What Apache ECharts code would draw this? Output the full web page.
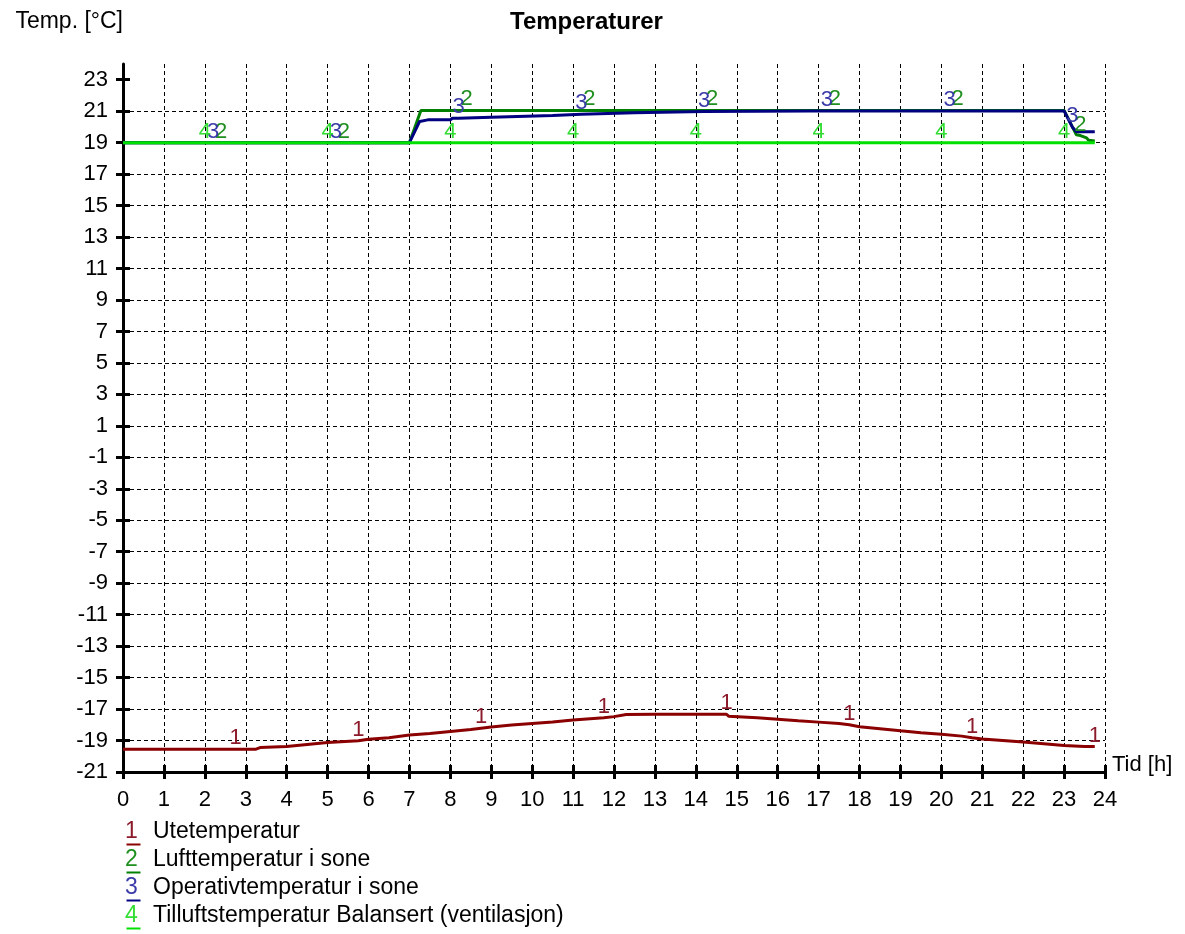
<!DOCTYPE html>
<html>
<head>
<meta charset="utf-8">
<title>Temperaturer</title>
<script src="https://cdn.jsdelivr.net/npm/echarts@6/dist/echarts.min.js"></script>
<style>
  html, body { margin: 0; padding: 0; background: #fff; }
  #chart { width: 1185px; height: 934px; }
</style>
</head>
<body>
<div id="chart"></div>
<script>
// tick labels
const xTicks = [0, 1, 2, 3, 4, 5, 6, 7, 8, 9, 10, 11, 12, 13, 14, 15, 16, 17, 18, 19, 20, 21, 22, 23, 24];
const yTicks = [-21, -19, -17, -15, -13, -11, -9, -7, -5, -3, -1, 1, 3, 5, 7, 9, 11, 13, 15, 17, 19, 21, 23];

const names = [
  'Utetemperatur',
  'Lufttemperatur i sone',
  'Operativtemperatur i sone',
  'Tilluftstemperatur Balansert (ventilasjon)'
];

// 1 Utetemperatur
const hours1 = [0, 2.75, 3.25, 3.35, 4, 4.5, 5, 5.75, 6, 6.5, 7, 7.5, 8, 8.5, 8.75, 9, 9.5, 10, 10.5, 11, 11.5, 11.75,
  12, 12.3, 13, 14, 14.75, 14.8, 15.5, 16, 16.5, 17, 17.5, 17.75, 18, 18.5, 19, 19.5, 20, 20.5, 20.75, 21, 21.5, 22,
  22.5, 23, 23.5, 23.75];
const temp1 = [-19.55, -19.55, -19.55, -19.45, -19.38, -19.25, -19.12, -19.02, -18.92, -18.82, -18.65, -18.55, -18.42,
  -18.3, -18.22, -18.14, -18.02, -17.92, -17.82, -17.7, -17.6, -17.55, -17.48, -17.35, -17.33, -17.33, -17.33, -17.45,
  -17.55, -17.65, -17.75, -17.83, -17.92, -18.0, -18.12, -18.25, -18.38, -18.5, -18.6, -18.72, -18.82, -18.9, -19.0,
  -19.1, -19.2, -19.32, -19.38, -19.38];
const marks1 = [2.75, 5.75, 8.75, 11.75, 14.75, 17.75, 20.75, 23.75];

// 2 Lufttemperatur i sone
const hours2 = [0, 2.4, 5.4, 7, 7.28, 8.4, 11.4, 14.4, 17.4, 20.4, 23, 23.3, 23.4, 23.55, 23.6, 23.75];
const temp2 = [19, 19, 19, 19, 21.05, 21.05, 21.05, 21.05, 21.05, 21.05, 21.05, 19.5, 19.45, 19.3, 19.15, 19.1];
const marks2 = [2.4, 5.4, 8.4, 11.4, 14.4, 17.4, 20.4, 23.4];

// 3 Operativtemperatur i sone
const hours3 = [0, 2.2, 5.2, 7, 7.25, 7.45, 8.0, 8.05, 8.2, 9, 10.5, 11.2, 12.5, 14.2, 16.8, 17.2, 20.2, 23, 23.2,
  23.3, 23.75];
const temp3 = [19, 19, 19, 19, 20.35, 20.45, 20.45, 20.55, 20.55, 20.62, 20.72, 20.8, 20.9, 20.98, 21.02, 21.02,
  21.02, 21.02, 20.0, 19.7, 19.7];
const marks3 = [2.2, 5.2, 8.2, 11.2, 14.2, 17.2, 20.2, 23.2];

// 4 Tilluftstemperatur Balansert (ventilasjon)
const hours4 = [0, 2, 5, 8, 11, 14, 17, 20, 23, 23.75];
const temp4 = [19, 19, 19, 19, 19, 19, 19, 19, 19, 19];
const marks4 = [2, 5, 8, 11, 14, 17, 20, 23];

const lineColors = ['#8b0000', '#008000', '#000080', '#00e000'];
const markColors = ['#8b1a2a', '#1f8f1f', '#3a3aa8', '#33dd33'];

const chart = echarts.init(document.getElementById('chart'));

function makeSeries(i, hours, temps, marks) {
  return {
    name: names[i],
    type: 'line',
    data: hours.map((h, k) => [h, temps[k]]),
    symbol: 'circle',
    symbolSize: 0,
    lineStyle: { color: lineColors[i], width: 3 },
    itemStyle: { color: lineColors[i] },
    label: {
      show: true,
      position: 'top',
      distance: 0,
      color: markColors[i],
      fontSize: 22,
      fontFamily: 'Liberation Sans, Arial, sans-serif',
      formatter: (p) => (marks.includes(p.value[0]) ? String(i + 1) : '')
    },
    emphasis: { disabled: true },
    silent: true
  };
}

const dashed = { color: '#000', width: 1, type: [4, 3] };
const tickStyle = { color: '#000', width: 3 };
const font = 'Liberation Sans, Arial, sans-serif';

const rich = { t: { color: '#000', fontSize: 23, fontFamily: font } };
markColors.forEach((c, i) => {
  rich['n' + (i + 1)] = { color: c, fontSize: 23, fontFamily: font, width: 28 };
});

// underlines under the legend numbers
const legendTop = 818;
const underlines = lineColors.map((c, i) => ({
  type: 'line',
  left: 124,
  top: legendTop + 24 + i * 28,
  shape: { x1: 0, y1: 0, x2: 14, y2: 0 },
  style: { stroke: c, lineWidth: 2 },
  silent: true
}));

const option = {
  animation: false,
  backgroundColor: '#fff',
  title: {
    text: 'Temperaturer',
    left: 505,
    top: 5,
    textStyle: { color: '#000', fontSize: 24, fontWeight: 'bold', fontFamily: font }
  },
  legend: {
    orient: 'vertical',
    left: 120,
    top: legendTop,
    padding: 0,
    icon: 'none',
    itemWidth: 0,
    itemHeight: 28,
    itemGap: 0,
    selectedMode: false,
    data: names,
    formatter: (name) => {
      const i = names.indexOf(name) + 1;
      return '{n' + i + '|' + i + '}{t|' + name + '}';
    },
    textStyle: { rich: rich, lineHeight: 28 }
  },
  graphic: underlines,
  grid: [
    { left: 123, right: 80, top: 64, bottom: 162 },
    { left: 123, right: 80, top: 64, bottom: 162 }
  ],
  xAxis: [
    {
      type: 'value',
      min: 0,
      max: 24,
      interval: 1,
      name: 'Tid [h]',
      nameLocation: 'end',
      nameGap: 7,
      nameTextStyle: { color: '#000', fontSize: 22, fontFamily: font, verticalAlign: 'bottom', lineHeight: 14 },
      axisLine: { onZero: false, lineStyle: { color: '#000', width: 3 } },
      axisTick: { length: 7, lineStyle: tickStyle },
      axisLabel: { color: '#000', fontSize: 22, fontFamily: font, margin: 17 },
      splitLine: { show: true, lineStyle: dashed }
    },
    {
      type: 'value',
      gridIndex: 1,
      min: 0,
      max: 24,
      interval: 1,
      axisLine: { show: false, onZero: false },
      axisTick: { inside: true, length: 7, lineStyle: tickStyle },
      axisLabel: { show: false },
      splitLine: { show: false }
    }
  ],
  yAxis: [
    {
      type: 'value',
      min: -21,
      max: 24,
      interval: 2,
      name: 'Temp. [°C]',
      nameLocation: 'end',
      nameGap: 42,
      nameTextStyle: { color: '#000', fontSize: 23, fontFamily: font, align: 'right', verticalAlign: 'middle' },
      axisLine: { onZero: false, lineStyle: { color: '#000', width: 3 } },
      axisTick: { length: 7, lineStyle: tickStyle, customValues: yTicks },
      axisLabel: { color: '#000', fontSize: 22, fontFamily: font, margin: 15, customValues: yTicks },
      splitLine: { show: true, showMaxLine: false, lineStyle: dashed }
    },
    {
      type: 'value',
      gridIndex: 1,
      min: -21,
      max: 24,
      interval: 2,
      axisLine: { show: false, onZero: false },
      axisTick: { inside: true, length: 7, lineStyle: tickStyle, customValues: yTicks },
      axisLabel: { show: false },
      splitLine: { show: false }
    }
  ],
  series: [
    makeSeries(0, hours1, temp1, marks1),
    makeSeries(1, hours2, temp2, marks2),
    makeSeries(2, hours3, temp3, marks3),
    makeSeries(3, hours4, temp4, marks4)
  ]
};

chart.setOption(option);
</script>
</body>
</html>
